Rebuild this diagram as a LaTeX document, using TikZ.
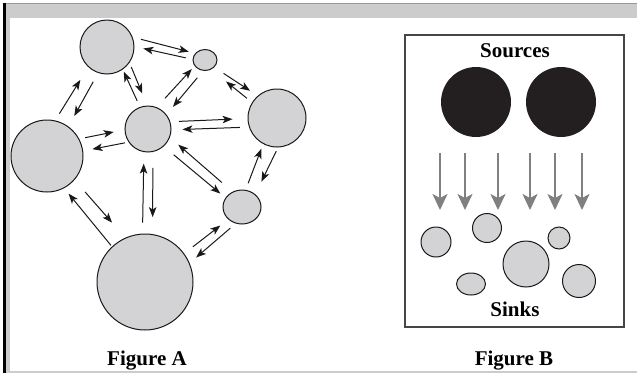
\documentclass[tikz,border=0pt]{standalone}
\usepackage{fontspec}
\setmainfont{Liberation Serif}
\usepackage{tikz}
\usetikzlibrary{shapes.geometric, arrows.meta, positioning, calc}
\definecolor{blobgray}{RGB}{211, 211, 213}
\definecolor{sourceblack}{RGB}{35, 31, 32}
\definecolor{framegray}{RGB}{204, 204, 204}
\definecolor{dropgray}{RGB}{128, 128, 128}
\definecolor{panelgray}{RGB}{70, 70, 70}

\begin{document}
\begin{tikzpicture}[
    x=1pt, y=-1pt,
    blob/.style={circle, draw=black!90, line width=1pt, fill=blobgray, inner sep=0pt},
    oval/.style={ellipse, draw=black!90, line width=1pt, fill=blobgray, inner sep=0pt},
    source/.style={circle, fill=sourceblack, inner sep=0pt, minimum size=70pt},
    flow/.style={-{Stealth[length=10pt, width=7.5pt, inset=2.5pt]}, line width=1pt, black!90},
    drop/.style={-{Stealth[length=16pt, width=15pt, inset=4pt]}, line width=2pt, dropgray},
    caption/.style={font=\fontsize{21}{25}\selectfont\bfseries, inner sep=0pt, anchor=base}
]
\useasboundingbox (0,0) rectangle (637,373);
% page frame
\fill[framegray] (6,3) rectangle (637,18);
\fill[framegray] (6,18) rectangle (10,373);
\fill[framegray] (10,371) rectangle (637,373);
\draw[black!40, line width=0.8pt] (6,3.4) -- (637,3.4);
\fill[black] (3,3) rectangle (6,373);

% Figure A
\node[blob, minimum size=54pt] (top) at (107,47) {};
\node[oval, minimum width=24pt, minimum height=21pt] (tiny) at (205,60) {};
\node[blob, minimum size=46pt] (hub) at (148,129) {};
\node[blob, minimum size=58pt] (east) at (277,118) {};
\node[blob, minimum size=72pt] (west) at (47,156) {};
\node[oval, minimum width=38pt, minimum height=34pt] (dot) at (242,207) {};
\node[blob, minimum size=96pt] (base) at (145,282) {};

\draw[flow, shorten <=8.5pt, shorten >=6.5pt] (top.21.5) -- (tiny.146);
\draw[flow, shorten <=7pt, shorten >=9pt] (tiny.177) -- (top.1.6);
\draw[flow, shorten <=4.6pt, shorten >=13pt] (top.-35) -- (hub.92);
\draw[flow, shorten <=6.7pt, shorten >=2.4pt] (hub.110) -- (top.-55);
\draw[flow, shorten <=8pt, shorten >=15pt] (west.77) -- (top.-133);
\draw[flow, shorten <=10pt, shorten >=12pt] (top.-109) -- (west.54);
\draw[flow, shorten <=12pt, shorten >=4pt] (hub.68) -- (tiny.-150);
\draw[flow, shorten <=9pt, shorten >=10pt] (tiny.-100) -- (hub.38);
\draw[flow, shorten <=11pt, shorten >=9pt] (tiny.-38) -- (east.131);
\draw[flow, shorten <=6.5pt, shorten >=19pt] (east.148) -- (tiny.-57);
\draw[flow, shorten <=8.6pt, shorten >=15pt] (hub.18) -- (east.181);
\draw[flow, shorten <=9pt, shorten >=11pt] (east.-162) -- (hub.-2);
\draw[flow, shorten <=6pt, shorten >=11pt] (west.28) -- (hub.182);
\draw[flow, shorten <=3.6pt, shorten >=9.4pt] (hub.-146) -- (west.8);
\draw[flow, shorten <=14pt, shorten >=11pt] (dot.122) -- (hub.-21);
\draw[flow, shorten <=13pt, shorten >=6.6pt] (hub.-48) -- (dot.151);
\draw[flow, shorten <=7pt, shorten >=5pt] (dot.78) -- (east.-118);
\draw[flow, shorten <=4pt, shorten >=14pt] (east.-88) -- (dot.44);
\draw[flow, shorten <=11pt, shorten >=11.5pt] (base.93) -- (hub.-100);
\draw[flow, shorten <=16pt, shorten >=17pt] (hub.-78) -- (base.81);
\draw[flow, shorten <=1.5pt, shorten >=7pt] (base.133) -- (west.-62);
\draw[flow, shorten <=16pt, shorten >=20pt] (west.-41) -- (base.114);
\draw[flow, shorten <=11pt, shorten >=10pt] (base.36) -- (dot.-138);
\draw[flow, shorten <=7pt, shorten >=8.5pt] (dot.-111) -- (base.23);

\node[caption] (capA) at (147,365) {Figure A};

% Figure B
\draw[panelgray, line width=1.2pt] (405,35) rectangle (624,327);
\node[caption] (sources) at (515,57) {Sources};
\node[source] (src1) at (476,102) {};
\node[source] (src2) at (561,102) {};

\foreach \x [count=\i] in {440,465,498,530,555,582} {
  \coordinate (drop\i a) at (\x,153);
  \coordinate (drop\i b) at (\x,210);
  \draw[drop] (drop\i a) -- (drop\i b);
}

\node[blob, minimum size=30pt] (sink1) at (436,242) {};
\node[blob, minimum size=29pt] (sink2) at (487,228) {};
\node[blob, minimum size=46pt] (sink3) at (526,264) {};
\node[blob, minimum size=22pt] (sink4) at (559,238) {};
\node[oval, minimum width=29pt, minimum height=22pt] (sink5) at (471,284) {};
\node[blob, minimum size=33pt] (sink6) at (579,281) {};
\node[caption] (sinks) at (515,316) {Sinks};

\node[caption] (capB) at (514,365) {Figure B};
\end{tikzpicture}
\end{document}
